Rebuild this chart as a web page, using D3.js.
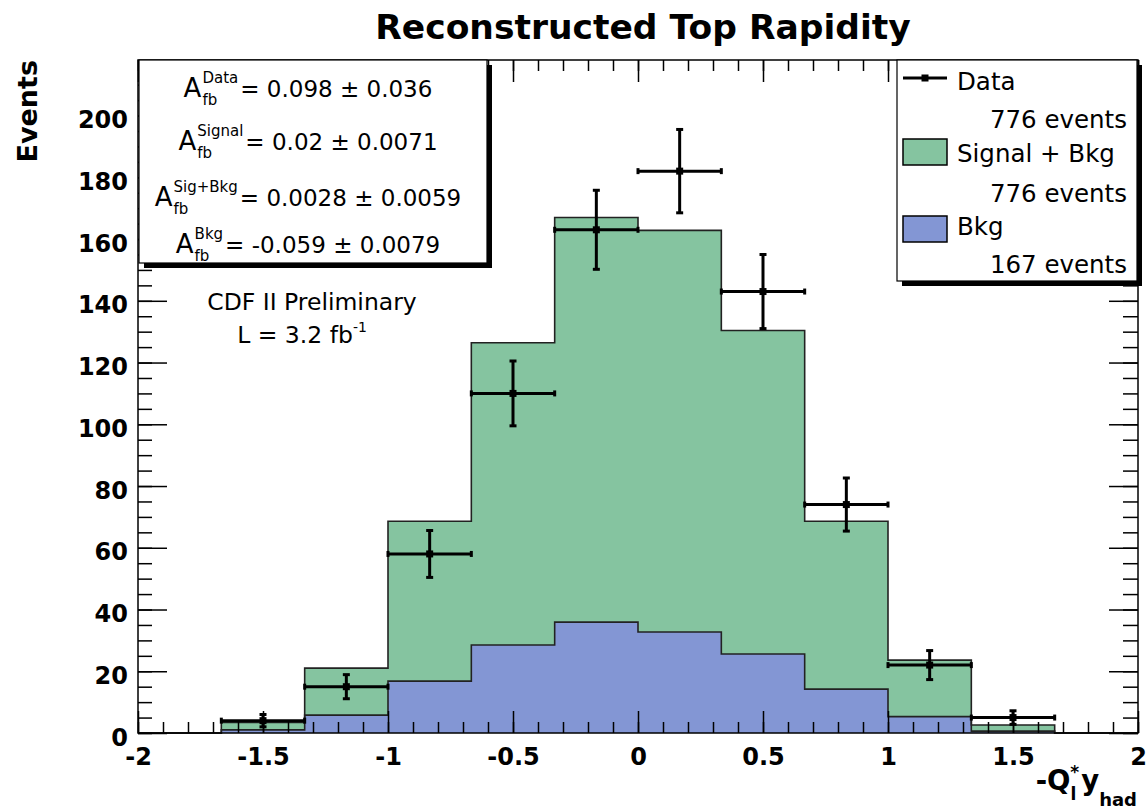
<!DOCTYPE html>
<html>
<head>
<meta charset="utf-8">
<script src="https://cdn.jsdelivr.net/npm/d3@7"></script>
<style>
  body { margin: 0; background: #fff; }
  text { font-family: "DejaVu Sans", sans-serif; }
</style>
</head>
<body>
<svg id="chart" width="1147" height="812"></svg>
<script>
// bin edges of -Q_l * y_had
const binEdges = [-2, -1.6667, -1.3333, -1, -0.6667, -0.3333, 0, 0.3333, 0.6667, 1, 1.3333, 1.6667, 2];
const sigBkg = [0, 3.4, 21, 68.6, 126.4, 167, 162.8, 130.4, 68.6, 23.6, 2.6, 0];
const bkg = [0, 1, 5.8, 16.8, 28.5, 35.9, 32.7, 25.6, 14.2, 5.3, 0.6, 0];
const dataCounts = [null, 4, 15, 58, 110, 163, 182, 143, 74, 22, 5, null];
const dataErr = [null, 2, 3.9, 7.6, 10.5, 12.8, 13.5, 12, 8.6, 4.7, 2.2, null];

const xTicks = [-2, -1.5, -1, -0.5, 0, 0.5, 1, 1.5, 2];
const yTicks = [0, 20, 40, 60, 80, 100, 120, 140, 160, 180, 200];

const afbLabels = ["Data", "Signal", "Sig+Bkg", "Bkg"];
const afbValues = ["0.098 \u00b1 0.036", "0.02 \u00b1 0.0071", "0.0028 \u00b1 0.0059", "-0.059 \u00b1 0.0079"];

const legendNames = ["Data", "Signal + Bkg", "Bkg"];
const legendCounts = ["776 events", "776 events", "167 events"];

const greenFill = "#85c4a0";
const blueFill = "#8396d4";

const margin = {top: 60, right: 9, bottom: 79, left: 138};
const W = 1147, H = 812;
const svg = d3.select("#chart");

const x = d3.scaleLinear().domain([-2, 2]).range([margin.left, W - margin.right]);
const y = d3.scaleLinear().domain([0, 218]).range([H - margin.bottom, margin.top]);

// title
svg.append("text")
    .attr("x", 643).attr("y", 39)
    .attr("text-anchor", "middle")
    .attr("font-size", 34.5).attr("font-weight", "bold")
    .text("Reconstructed Top Rapidity");

// histograms
function stepPoints(vals) {
    const pts = vals.map((v, i) => [binEdges[i], v]);
    pts.push([binEdges[binEdges.length - 1], vals[vals.length - 1]]);
    return pts;
}
const area = d3.area().curve(d3.curveStepAfter)
    .x(d => x(d[0])).y0(y(0)).y1(d => y(d[1]));
const line = d3.line().curve(d3.curveStepAfter)
    .x(d => x(d[0])).y(d => y(d[1]));

[[sigBkg, greenFill], [bkg, blueFill]].forEach(([vals, col]) => {
    svg.append("path").attr("d", area(stepPoints(vals))).attr("fill", col);
});
[sigBkg, bkg].forEach(vals => {
    svg.append("path").attr("d", line(stepPoints(vals)) + `V${y(0)}`)
        .attr("fill", "none").attr("stroke", "#222").attr("stroke-width", 1.6);
});

// axes
const axisFont = g => g.selectAll("text")
    .attr("font-family", "DejaVu Sans").attr("font-weight", "bold").attr("font-size", 24).attr("fill", "#000");
const xMinor = d3.range(-2, 2.001, 0.1).map(v => +v.toFixed(1));
const yMinor = d3.range(0, 218, 5);

const gAx = svg.append("g");
function addAxis(axis, transform, labels) {
    const g = gAx.append("g").attr("transform", transform).call(axis);
    g.select(".domain").remove();
    g.selectAll("line").attr("stroke", "#000").attr("stroke-width", 1.5);
    if (!labels) g.selectAll("text").remove();
    return g;
}
const bx = addAxis(d3.axisBottom(x).tickValues(xTicks).tickFormat(d => String(d)).tickSize(-22).tickPadding(15),
    `translate(0,${y(0)})`, true);
axisFont(bx);
addAxis(d3.axisBottom(x).tickValues(xMinor).tickSize(-11), `translate(0,${y(0)})`, false);
addAxis(d3.axisTop(x).tickValues(xTicks).tickSize(-22), `translate(0,${margin.top})`, false);
addAxis(d3.axisTop(x).tickValues(xMinor).tickSize(-11), `translate(0,${margin.top})`, false);
const ly = addAxis(d3.axisLeft(y).tickValues(yTicks).tickFormat(d => String(d)).tickSize(-29).tickPadding(10),
    `translate(${margin.left},0)`, true);
axisFont(ly);
ly.selectAll("text").attr("dy", "0.5em");
addAxis(d3.axisLeft(y).tickValues(yMinor).tickSize(-14), `translate(${margin.left},0)`, false);
addAxis(d3.axisRight(y).tickValues(yTicks).tickSize(-29), `translate(${W - margin.right},0)`, false);
addAxis(d3.axisRight(y).tickValues(yMinor).tickSize(-15), `translate(${W - margin.right},0)`, false);

svg.append("rect")
    .attr("x", margin.left).attr("y", margin.top)
    .attr("width", W - margin.left - margin.right).attr("height", H - margin.top - margin.bottom)
    .attr("fill", "none").attr("stroke", "#000").attr("stroke-width", 1.5);

// axis titles
svg.append("text")
    .attr("transform", `translate(37,${margin.top}) rotate(-90)`)
    .attr("text-anchor", "end")
    .attr("font-size", 27).attr("font-weight", "bold")
    .text("Events");

const xt = svg.append("text")
    .attr("x", 1137).attr("y", 790)
    .attr("text-anchor", "end")
    .attr("font-size", 27.5).attr("font-weight", "bold");
xt.append("tspan").text("-Q");
xt.append("tspan").attr("font-size", 17).attr("dy", 10).text("l");
xt.append("tspan").attr("font-size", 17).attr("dy", -22).attr("dx", -6).text("*");
xt.append("tspan").attr("dy", 12).attr("dx", 2).text("y");
xt.append("tspan").attr("font-size", 18).attr("dy", 16).text("had");

// data points with error bars
const dataPts = dataCounts.map((v, i) => ({v, e: dataErr[i], lo: binEdges[i], hi: binEdges[i + 1]}))
    .filter(d => d.v !== null);
const gd = svg.append("g").attr("stroke", "#000").attr("stroke-width", 3);
dataPts.forEach(d => {
    const cx = x((d.lo + d.hi) / 2), cy = y(d.v);
    gd.append("line").attr("x1", x(d.lo)).attr("x2", x(d.hi)).attr("y1", cy).attr("y2", cy);
    gd.append("line").attr("x1", cx).attr("x2", cx).attr("y1", y(d.v + d.e)).attr("y2", y(Math.max(0, d.v - d.e)));
    gd.append("line").attr("x1", x(d.lo)).attr("x2", x(d.lo)).attr("y1", cy - 3).attr("y2", cy + 3);
    gd.append("line").attr("x1", x(d.hi)).attr("x2", x(d.hi)).attr("y1", cy - 3).attr("y2", cy + 3);
    gd.append("line").attr("x1", cx - 3.5).attr("x2", cx + 3.5).attr("y1", y(d.v + d.e)).attr("y2", y(d.v + d.e));
    gd.append("line").attr("x1", cx - 3.5).attr("x2", cx + 3.5).attr("y1", y(d.v - d.e)).attr("y2", y(d.v - d.e));
    svg.append("rect").attr("x", cx - 3.5).attr("y", cy - 3.5).attr("width", 7).attr("height", 7).attr("fill", "#000");
});

// boxes with shadow
function shadowBox(x0, y0, x1, y1) {
    svg.append("rect").attr("x", x0 + 5).attr("y", y0 + 5).attr("width", x1 - x0).attr("height", y1 - y0).attr("fill", "#000");
    svg.append("rect").attr("x", x0).attr("y", y0).attr("width", x1 - x0).attr("height", y1 - y0)
        .attr("fill", "#fff").attr("stroke", "#000").attr("stroke-width", 1.2);
}

// asymmetry box
shadowBox(139, 60, 487, 263);
const statBase = [97, 150, 206, 253];
afbLabels.forEach((lab, i) => {
    const g = svg.append("g");
    const a = g.append("text").attr("x", 0).attr("y", 0).attr("font-size", 26).text("A");
    const aw = a.node().getComputedTextLength();
    const sup = g.append("text").attr("x", aw + 1).attr("y", -14).attr("font-size", 15).text(lab);
    const sub = g.append("text").attr("x", aw + 1).attr("y", 8).attr("font-size", 15).text("fb");
    const sw = Math.max(sup.node().getComputedTextLength(), sub.node().getComputedTextLength());
    const rest = g.append("text").attr("x", aw + sw + 3).attr("y", 0).attr("font-size", 23).text("= " + afbValues[i]);
    const total = aw + sw + 3 + rest.node().getComputedTextLength();
    g.attr("transform", `translate(${308 - total / 2},${statBase[i]})`);
});

svg.append("text").attr("x", 312).attr("y", 310).attr("text-anchor", "middle")
    .attr("font-size", 23.5).text("CDF II Preliminary");
const lum = svg.append("text").attr("x", 302).attr("y", 343).attr("text-anchor", "middle").attr("font-size", 23.5);
lum.append("tspan").text("L = 3.2 fb");
lum.append("tspan").attr("font-size", 14).attr("dy", -11).text("-1");

// legend
shadowBox(897, 60, 1137, 281);
const legNameY = [90, 162, 235];
const legCountY = [128, 202, 273];
legendNames.forEach((name, i) => {
    svg.append("text").attr("x", 957).attr("y", legNameY[i]).attr("font-size", 24.5).text(name);
    svg.append("text").attr("x", 1127).attr("y", legCountY[i]).attr("text-anchor", "end").attr("font-size", 24.5).text(legendCounts[i]);
});
svg.append("line").attr("x1", 903).attr("x2", 947).attr("y1", 78).attr("y2", 78).attr("stroke", "#000").attr("stroke-width", 3);
svg.append("rect").attr("x", 921.5).attr("y", 74.5).attr("width", 7).attr("height", 7).attr("fill", "#000");
[[greenFill, 139], [blueFill, 216]].forEach(([col, top]) => {
    svg.append("rect").attr("x", 903).attr("y", top).attr("width", 44).attr("height", 26)
        .attr("fill", col).attr("stroke", "#000").attr("stroke-width", 1.5);
});
</script>
</body>
</html>
